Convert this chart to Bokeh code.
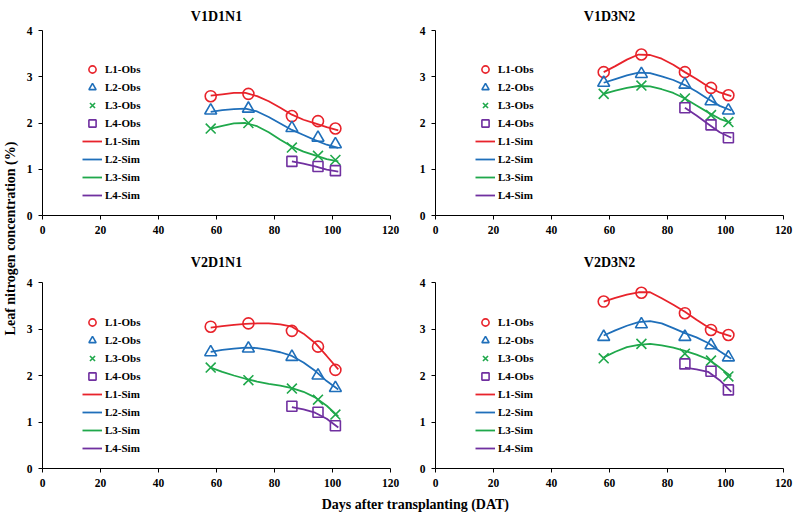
import math
from bokeh.plotting import figure
from bokeh.models import Range1d, Label, Legend, LegendItem
from bokeh.layouts import row, column
from bokeh.embed import file_html
from bokeh.resources import INLINE

# ---------------- data ----------------
panel_titles = ["V1D1N1", "V1D3N2", "V2D1N1", "V2D3N2"]
series_labels = ["L1", "L2", "L3", "L4"]
x_ticks = [0, 20, 40, 60, 80, 100, 120]
y_ticks = [0, 1, 2, 3, 4]

obs_x = [58, 71, 86, 95, 101]
obs_x_l4 = [86, 95, 101]
sim_x = [58, 62, 66, 70, 74, 78, 82, 86, 90, 94, 98, 102]
sim_x_l4 = [86, 90, 94, 98, 102]

# V1D1N1
v1d1n1_obs_l1 = [2.58, 2.63, 2.15, 2.04, 1.88]
v1d1n1_obs_l2 = [2.27, 2.31, 1.89, 1.68, 1.54]
v1d1n1_obs_l3 = [1.88, 2.00, 1.47, 1.29, 1.20]
v1d1n1_obs_l4 = [1.17, 1.06, 0.97]
v1d1n1_sim_l1 = [2.59, 2.62, 2.65, 2.65, 2.58, 2.47, 2.33, 2.18, 2.07, 1.99, 1.91, 1.84]
v1d1n1_sim_l2 = [2.24, 2.28, 2.30, 2.31, 2.25, 2.13, 1.99, 1.85, 1.74, 1.63, 1.53, 1.46]
v1d1n1_sim_l3 = [1.88, 1.94, 1.99, 2.00, 1.93, 1.80, 1.64, 1.49, 1.38, 1.30, 1.22, 1.17]
v1d1n1_sim_l4 = [1.17, 1.12, 1.06, 0.99, 0.95]

# V1D3N2
v1d3n2_obs_l1 = [3.10, 3.48, 3.10, 2.76, 2.60]
v1d3n2_obs_l2 = [2.87, 3.06, 2.83, 2.47, 2.27]
v1d3n2_obs_l3 = [2.63, 2.81, 2.53, 2.17, 2.02]
v1d3n2_obs_l4 = [2.33, 1.96, 1.68]
v1d3n2_sim_l1 = [3.10, 3.23, 3.37, 3.48, 3.47, 3.39, 3.26, 3.10, 2.95, 2.79, 2.66, 2.58]
v1d3n2_sim_l2 = [2.87, 2.95, 3.03, 3.09, 3.08, 3.01, 2.93, 2.82, 2.68, 2.52, 2.37, 2.27]
v1d3n2_sim_l3 = [2.63, 2.70, 2.76, 2.80, 2.79, 2.73, 2.65, 2.53, 2.38, 2.23, 2.09, 2.00]
v1d3n2_sim_l4 = [2.33, 2.16, 1.98, 1.80, 1.68]

# V2D1N1
v2d1n1_obs_l1 = [3.05, 3.12, 2.96, 2.62, 2.12]
v2d1n1_obs_l2 = [2.50, 2.58, 2.40, 2.00, 1.73]
v2d1n1_obs_l3 = [2.17, 1.90, 1.72, 1.48, 1.16]
v2d1n1_obs_l4 = [1.34, 1.21, 0.92]
v2d1n1_sim_l1 = [3.03, 3.06, 3.09, 3.11, 3.12, 3.12, 3.10, 3.05, 2.90, 2.70, 2.42, 2.13]
v2d1n1_sim_l2 = [2.51, 2.55, 2.58, 2.60, 2.59, 2.55, 2.50, 2.42, 2.28, 2.10, 1.88, 1.70]
v2d1n1_sim_l3 = [2.17, 2.08, 2.00, 1.93, 1.87, 1.82, 1.78, 1.73, 1.65, 1.53, 1.35, 1.12]
v2d1n1_sim_l4 = [1.32, 1.27, 1.20, 1.07, 0.88]

# V2D3N2
v2d3n2_obs_l1 = [3.59, 3.78, 3.34, 2.98, 2.87]
v2d3n2_obs_l2 = [2.83, 3.10, 2.83, 2.65, 2.39]
v2d3n2_obs_l3 = [2.37, 2.68, 2.47, 2.32, 1.98]
v2d3n2_obs_l4 = [2.25, 2.09, 1.69]
v2d3n2_sim_l1 = [3.59, 3.67, 3.74, 3.79, 3.79, 3.66, 3.52, 3.37, 3.20, 3.04, 2.92, 2.84]
v2d3n2_sim_l2 = [2.86, 2.97, 3.07, 3.15, 3.17, 3.12, 3.02, 2.91, 2.82, 2.70, 2.52, 2.36]
v2d3n2_sim_l3 = [2.39, 2.51, 2.61, 2.66, 2.68, 2.65, 2.60, 2.53, 2.45, 2.35, 2.17, 1.98]
v2d3n2_sim_l4 = [2.17, 2.13, 2.08, 1.90, 1.65]

panels = [
    ([v1d1n1_obs_l1, v1d1n1_obs_l2, v1d1n1_obs_l3, v1d1n1_obs_l4],
     [v1d1n1_sim_l1, v1d1n1_sim_l2, v1d1n1_sim_l3, v1d1n1_sim_l4]),
    ([v1d3n2_obs_l1, v1d3n2_obs_l2, v1d3n2_obs_l3, v1d3n2_obs_l4],
     [v1d3n2_sim_l1, v1d3n2_sim_l2, v1d3n2_sim_l3, v1d3n2_sim_l4]),
    ([v2d1n1_obs_l1, v2d1n1_obs_l2, v2d1n1_obs_l3, v2d1n1_obs_l4],
     [v2d1n1_sim_l1, v2d1n1_sim_l2, v2d1n1_sim_l3, v2d1n1_sim_l4]),
    ([v2d3n2_obs_l1, v2d3n2_obs_l2, v2d3n2_obs_l3, v2d3n2_obs_l4],
     [v2d3n2_sim_l1, v2d3n2_sim_l2, v2d3n2_sim_l3, v2d3n2_sim_l4]),
]

# ---------------- style ----------------
FONT = "Liberation Serif"
colors = ["#e8232b", "#1f6fba", "#1fa84b", "#7030a0"]
markers = ["circle", "triangle", "x", "square"]
marker_sizes = [11, 12, 14, 10]

FRAME_W, FRAME_H = 348, 186


def make_panel(idx, obs_list, sim_list, top):
    left_col = idx % 2 == 0
    mbl = 20 if left_col else 25
    mbr = 20 if left_col else 10
    mbt = 29 if top else 43
    mbb = 24
    p = figure(width=mbl + FRAME_W + mbr, height=mbt + FRAME_H + mbb,
               x_range=Range1d(0, 120), y_range=Range1d(0, 4),
               output_backend="svg", toolbar_location=None,
               min_border_left=mbl, min_border_right=mbr,
               min_border_top=mbt, min_border_bottom=mbb)
    p.outline_line_color = None
    p.grid.visible = False
    p.background_fill_color = "white"
    p.border_fill_color = "white"
    p.title.text = panel_titles[idx]
    p.title.align = "center"
    p.title.text_font = FONT
    p.title.text_font_style = "bold"
    p.title.text_font_size = "14px"
    p.title.text_color = "black"
    p.title.standoff = 13 if top else 26
    p.xaxis.ticker = x_ticks
    p.yaxis.ticker = y_ticks
    for ax in [p.xaxis[0], p.yaxis[0]]:
        ax.axis_line_color = "black"
        ax.axis_line_width = 1
        ax.major_tick_line_color = "black"
        ax.major_tick_out = 4
        ax.major_tick_in = 0
        ax.minor_tick_line_color = None
        ax.major_label_text_font = FONT
        ax.major_label_text_font_style = "bold"
        ax.major_label_text_font_size = "11.5px"
        ax.major_label_text_color = "black"
        ax.major_label_standoff = 6

    obs_r, sim_r = [], []
    for k in range(4):
        sx = sim_x_l4 if k == 3 else sim_x
        r = p.line(sx, sim_list[k], line_color=colors[k], line_width=1.8)
        sim_r.append(r)
    for k in range(4):
        ox = obs_x_l4 if k == 3 else obs_x
        r = p.scatter(ox, obs_list[k], marker=markers[k], size=marker_sizes[k],
                      fill_color=None, line_color=colors[k], line_width=1.6)
        obs_r.append(r)

    items = [LegendItem(label=f"{s}-Obs", renderers=[r]) for s, r in zip(series_labels, obs_r)]
    items += [LegendItem(label=f"{s}-Sim", renderers=[r]) for s, r in zip(series_labels, sim_r)]
    leg = Legend(items=items, location=(40, 11), padding=0, margin=0, spacing=0,
                 glyph_width=20, glyph_height=18, label_height=18, label_standoff=3,
                 background_fill_alpha=0, border_line_color=None,
                 label_text_font=FONT, label_text_font_style="bold",
                 label_text_font_size="11px", label_text_color="black")
    p.add_layout(leg)
    return p


figs = []
for i, (obs_list, sim_list) in enumerate(panels):
    figs.append(make_panel(i, obs_list, sim_list, top=(i < 2)))

TOTAL_H = figs[0].height + figs[2].height + 20

# shared y-axis label strip
ylab = figure(width=22, height=TOTAL_H, x_range=Range1d(0, 22), y_range=Range1d(0, TOTAL_H),
              output_backend="svg", toolbar_location=None, min_border=0,
              x_axis_type=None, y_axis_type=None)
ylab.outline_line_color = None
ylab.grid.visible = False
ylab.add_layout(Label(x=10, y=TOTAL_H - 238, text="Leaf nitrogen concentration (%)",
                      angle=math.pi / 2, text_align="center", text_baseline="middle",
                      text_font=FONT, text_font_style="bold", text_font_size="14px",
                      text_color="black"))

# shared x-axis label strip
XLAB_W = figs[0].width + figs[1].width
xlab = figure(width=XLAB_W, height=20, x_range=Range1d(0, XLAB_W), y_range=Range1d(0, 20),
              output_backend="svg", toolbar_location=None, min_border=0,
              x_axis_type=None, y_axis_type=None)
xlab.outline_line_color = None
xlab.grid.visible = False
xlab.add_layout(Label(x=415 - 22, y=8, text="Days after transplanting (DAT)",
                      text_align="center", text_baseline="middle", text_font=FONT,
                      text_font_style="bold", text_font_size="14px", text_color="black"))

layout = row(ylab, column(row(figs[0], figs[1]), row(figs[2], figs[3]), xlab))

open("out.html", "w").write(file_html(layout, INLINE))
